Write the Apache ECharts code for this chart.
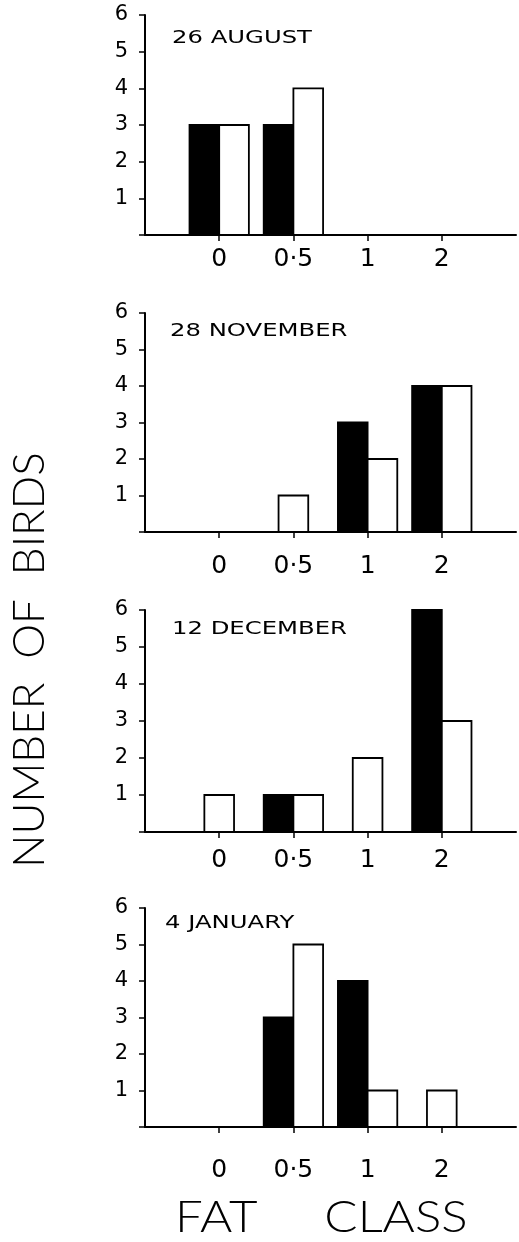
<!DOCTYPE html>
<html>
<head>
<meta charset="utf-8">
<script src="https://cdn.jsdelivr.net/npm/echarts@6/dist/echarts.min.js"></script>
<style>html,body{margin:0;padding:0;background:#fff}#c{width:519px;height:1242px}</style>
</head>
<body>
<div id="c"></div>
<script>
// Fat classes (x categories)
const categories = ['0', '0·5', '1', '2'];
// y tick labels
const yTicks = [0, 1, 2, 3, 4, 5, 6];
// Panel titles
const panelTitles = ['26 AUGUST', '28 NOVEMBER', '12 DECEMBER', '4 JANUARY'];
// Black bars / white bars per panel
const augustBlack = [3, 3, 0, 0];
const augustWhite = [3, 4, 0, 0];
const novemberBlack = [0, 0, 3, 4];
const novemberWhite = [0, 1, 2, 4];
const decemberBlack = [0, 1, 0, 6];
const decemberWhite = [1, 1, 2, 3];
const januaryBlack = [0, 3, 4, 0];
const januaryWhite = [0, 5, 1, 1];

const blackSets = [augustBlack, novemberBlack, decemberBlack, januaryBlack];
const whiteSets = [augustWhite, novemberWhite, decemberWhite, januaryWhite];

const axisCats = [''].concat(categories, ['']);
const FONT = "'DejaVu Sans', sans-serif";
const THIN = "Lato, 'DejaVu Sans', sans-serif";

const layout = [
  {top: 15, height: 220, labelMargin: 12, titleTop: 29, titleLeft: 172},
  {top: 313, height: 219, labelMargin: 22, titleTop: 322, titleLeft: 170},
  {top: 610, height: 222, labelMargin: 16, titleTop: 620, titleLeft: 172},
  {top: 908, height: 219, labelMargin: 31, titleTop: 914, titleLeft: 165}
];

function renderPair(params, api) {
  const idx = api.value(0), b = api.value(1), w = api.value(2);
  const base = api.coord([idx, 0]);
  const next = api.coord([idx + 1, 0]);
  const bw = (next[0] - base[0]) * 0.4;
  const mk = (x0, v, fill) => {
    const top = api.coord([idx, v]);
    return {type: 'rect', shape: {x: x0, y: top[1], width: bw, height: base[1] - top[1]},
      style: {fill: fill, stroke: '#000', lineWidth: 1.8}};
  };
  const children = [];
  if (b > 0 && w > 0) { children.push(mk(base[0] - bw, b, '#000'), mk(base[0], w, '#fff')); }
  else if (b > 0) { children.push(mk(base[0] - bw / 2, b, '#000')); }
  else if (w > 0) { children.push(mk(base[0] - bw / 2, w, '#fff')); }
  return {type: 'group', children: children};
}

const grids = [], xAxes = [], yAxes = [], series = [], graphics = [];
layout.forEach((L, i) => {
  grids.push({left: 145, right: 0, top: L.top, height: L.height});
  xAxes.push({
    type: 'category', gridIndex: i, data: axisCats, boundaryGap: false,
    axisLine: {lineStyle: {color: '#000', width: 2}},
    axisTick: {show: true, length: 6, lineStyle: {color: '#000', width: 1.5},
      interval: (idx, v) => v !== ''},
    axisLabel: {interval: 0, margin: L.labelMargin, color: '#000', fontSize: 25, fontFamily: FONT},
    splitLine: {show: false}
  });
  yAxes.push({
    type: 'value', gridIndex: i, min: yTicks[0], max: yTicks[yTicks.length - 1], interval: 1,
    axisLine: {show: true, lineStyle: {color: '#000', width: 2}},
    axisTick: {show: true, length: 6, lineStyle: {color: '#000', width: 1.5}},
    axisLabel: {margin: 17, color: '#000', fontSize: 21, fontFamily: FONT,
      formatter: v => v === 0 ? '' : String(v)},
    splitLine: {show: false}
  });
  const data = categories.map((c, k) => [k + 1, blackSets[i][k], whiteSets[i][k]]);
  series.push({type: 'custom', xAxisIndex: i, yAxisIndex: i, renderItem: renderPair,
    encode: {x: 0, y: [1, 2]}, data: data, silent: true});
  graphics.push({type: 'text', x: L.titleLeft, y: L.titleTop, scaleX: 1.35,
    style: {text: panelTitles[i], fontSize: 18, fontFamily: FONT, fill: '#000',
      align: 'left', verticalAlign: 'top'}});
});

graphics.push(
  {type: 'text', x: 175, y: 1196, scaleX: 1.12,
    style: {text: 'FAT     CLASS', fontSize: 44, fontWeight: 300, fontFamily: THIN, fill: '#000',
      align: 'left', verticalAlign: 'top'}},
  {type: 'text', x: 8, y: 660, rotation: Math.PI / 2,
    style: {text: 'NUMBER  OF  BIRDS', fontSize: 44, fontWeight: 300, fontFamily: THIN,
      fill: '#000', align: 'center', verticalAlign: 'top'}}
);

const chart = echarts.init(document.getElementById('c'), null, {renderer: 'canvas'});
chart.setOption({
  animation: false,
  backgroundColor: '#fff',
  grid: grids, xAxis: xAxes, yAxis: yAxes, series: series,
  graphic: graphics
});
</script>
</body>
</html>
